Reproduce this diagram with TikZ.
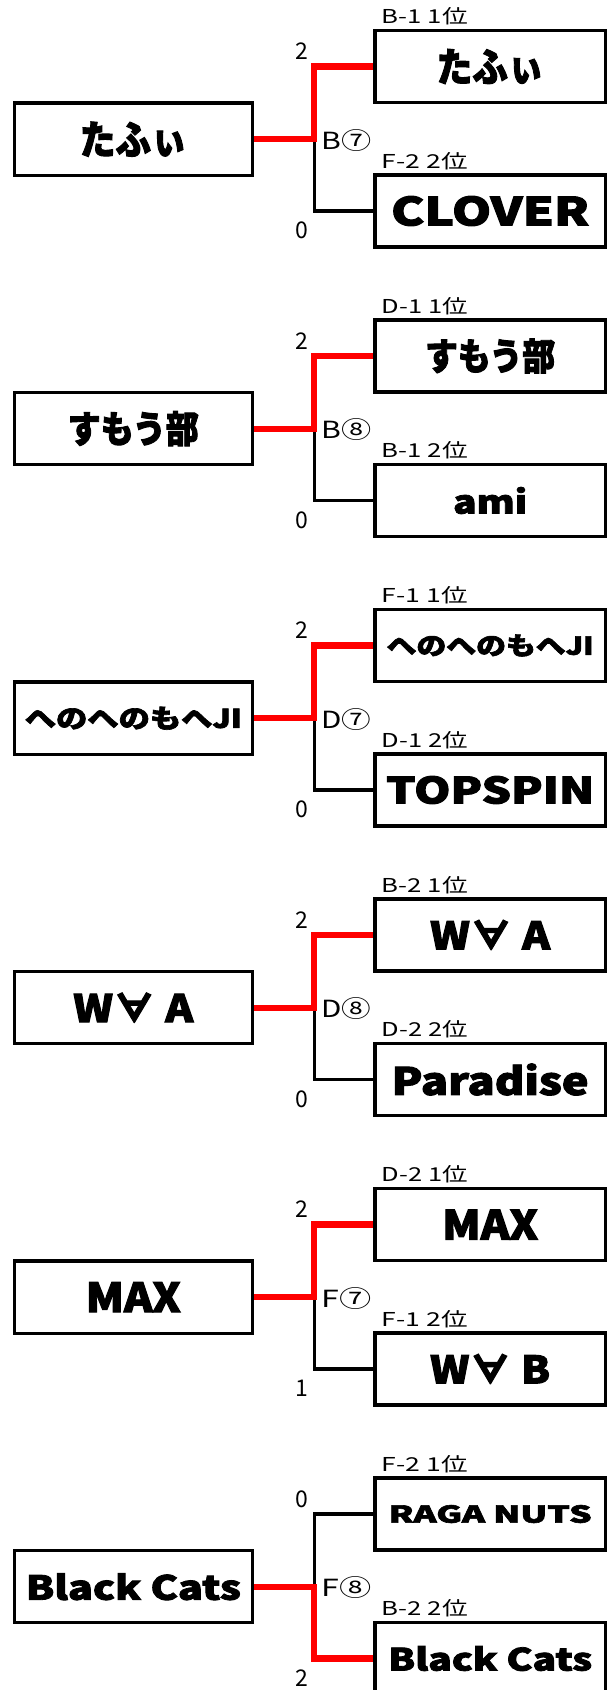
\documentclass[tikz,border=0pt]{standalone}
\usepackage{fontspec}
\usepackage{graphicx}
\setmainfont{Noto Sans CJK JP}
\newfontfamily\heavyfont{Noto Sans CJK JP}[BoldFeatures={FakeBold=2.5}]
\newcommand\fitt[3]{\resizebox*{#1pt}{#2pt}{\heavyfont\bfseries #3}}
\newcommand\labt[1]{\resizebox*{86pt}{17.5pt}{#1}}
\newcommand\matcht[1]{\resizebox*{50pt}{22pt}{#1}}
\tikzset{
  lbox/.style={draw, line width=3.2pt, minimum width=238pt, minimum height=72.3pt, inner sep=0pt, fill=white},
  rbox/.style={draw, line width=3.2pt, minimum width=230.3pt, minimum height=72pt, inner sep=0pt, fill=white},
  lab/.style={anchor=south west, inner sep=0pt},
  score/.style={inner sep=0pt, font=\fontsize{23pt}{23pt}\selectfont},
  match/.style={anchor=west, inner sep=0pt},
  redline/.style={draw=red, line width=6.3pt},
  blackline/.style={draw=black, line width=3.3pt}
}
\newcommand\bracket[9]{%
  \pgfmathsetmacro\oy{(#1-1)*289.5}%
  \pgfmathsetmacro\ly{139.2+\oy}%
  \pgfmathsetmacro\ty{66.5+\oy}%
  \pgfmathsetmacro\by{211+\oy}%
  \coordinate (J#1) at (314.3,\ly);
  \coordinate (JT#1) at (314.3,\ty);
  \coordinate (JB#1) at (314.3,\by);
  \node[lbox] (L#1) at (133.3,\ly) {#2};
  \node[rbox] (T#1) at (490.15,\ty) {#3};
  \node[rbox] (B#1) at (490.15,\by) {#5};
  \node[lab] (TL#1) at (381.7,\ty-41) {\labt{#4}};
  \node[lab] (BL#1) at (381.7,\by-41) {\labt{#6}};
  \node[match] (M#1) at (321.3,\ly+1) {\matcht{#7}};
  \node[score] (ST#1) at (301.7,\ty-15.2) {#8};
  \node[score] (SB#1) at (301.7,\by+19.5) {#9};
  \ifnum#8>#9\relax
    \draw[blackline] (J#1) -- (JB#1) -- (B#1.west);
    \draw[redline] (L#1.east) -- (J#1) -- (JT#1) -- (T#1.west);
  \else
    \draw[blackline] (J#1) -- (JT#1) -- (T#1.west);
    \draw[redline] (L#1.east) -- (J#1) -- (JB#1) -- (B#1.west);
  \fi
}
\begin{document}
\begin{tikzpicture}[x=1pt,y=-1pt]
\clip (0,0) rectangle (616,1690);
\fill[white] (0,0) rectangle (616,1690);
\bracket{1}{\fitt{107}{35}{たふぃ}}{\fitt{107}{35}{たふぃ}}{B-1 1位}{\fitt{198}{30}{CLOVER}}{F-2 2位}{B⑦}{2}{0}
\bracket{2}{\fitt{131}{35}{すもう部}}{\fitt{130}{35}{すもう部}}{D-1 1位}{\fitt{74}{27}{ami}}{B-1 2位}{B⑧}{2}{0}
\bracket{3}{\fitt{217}{23}{へのへのもへJI}}{\fitt{207}{22}{へのへのもへJI}}{F-1 1位}{\fitt{208}{28}{TOPSPIN}}{D-1 2位}{D⑦}{2}{0}
\bracket{4}{\fitt{120}{30}{W∀ A}}{\fitt{120}{30}{W∀ A}}{B-2 1位}{\fitt{197}{32}{Paradise}}{D-2 2位}{D⑧}{2}{0}
\bracket{5}{\fitt{95}{30}{MAX}}{\fitt{96}{30}{MAX}}{D-2 1位}{\fitt{120}{30}{W∀ B}}{F-1 2位}{F⑦}{2}{1}
\bracket{6}{\fitt{215}{27}{Black Cats}}{\fitt{203}{18}{RAGA NUTS}}{F-2 1位}{\fitt{204}{25}{Black Cats}}{B-2 2位}{F⑧}{0}{2}
\end{tikzpicture}
\end{document}
